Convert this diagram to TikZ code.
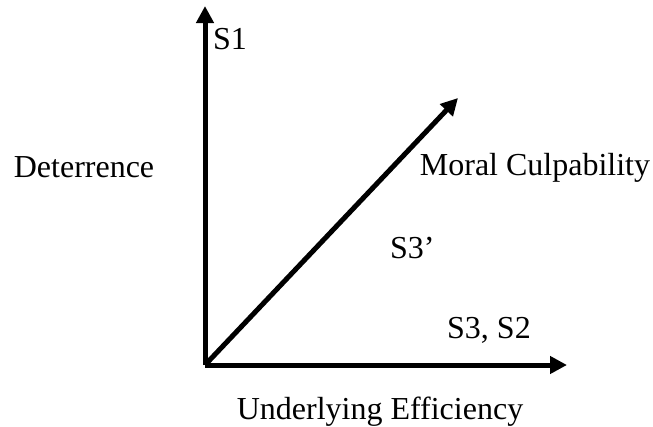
\documentclass[tikz,border=0pt]{standalone}
\usepackage{fontspec}
\setmainfont{Liberation Serif}
\usetikzlibrary{arrows.meta}
\tikzset{eaxis/.style={-{Triangle[length=17pt,width=17pt]},line width=5pt}}
\tikzset{elabel/.style={font=\fontsize{32}{38}\selectfont,inner sep=0pt}}

\begin{document}
\begin{tikzpicture}[x=1pt,y=-1pt]
            \useasboundingbox (0,0) rectangle (653,426);
            % the three axes from a common origin
            \coordinate (origin) at (205,365);
            \coordinate (ytip) at (205,6);
            \coordinate (xtip) at (567,365);
            \coordinate (dtip) at (458,98);
            \draw[eaxis] (origin) -- (ytip);
            \draw[eaxis] (origin) -- (xtip);
            \draw[eaxis] (origin) -- (dtip);
            % the labels
            \node[elabel,anchor=base] (deter) at (84,177) {Deterrence};
            \node[elabel,anchor=base] (moral) at (535,175) {Moral Culpability};
            \node[elabel,anchor=base] (eff) at (380,419) {Underlying Efficiency};
            \node[elabel,anchor=base west] (s1) at (213,49) {S1};
            \node[elabel,anchor=base west] (s3p) at (390,258) {S3’};
            \node[elabel,anchor=base west] (s32) at (447,338) {S3, S2};
        \end{tikzpicture}
\end{document}
